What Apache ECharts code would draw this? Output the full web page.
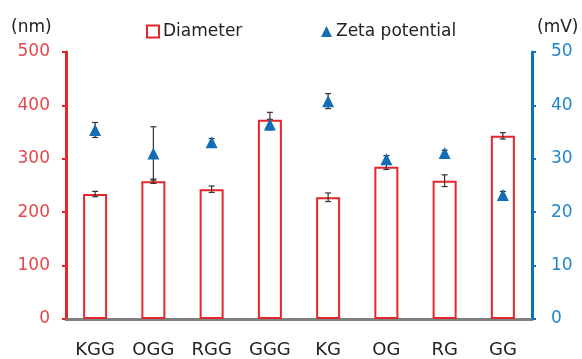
<!DOCTYPE html>
<html>
<head>
<meta charset="utf-8">
<script src="https://cdn.jsdelivr.net/npm/echarts@6/dist/echarts.min.js"></script>
<style>
  html, body { margin: 0; padding: 0; background: #fff; }
  #chart { width: 582px; height: 359px; }
</style>
</head>
<body>
<div id="chart"></div>
<script>
// Peptide samples along the x axis
const categories = ['KGG', 'OGG', 'RGG', 'GGG', 'KG', 'OG', 'RG', 'GG'];

// Hydrodynamic diameter (nm) with standard deviation
const diameter = [234, 258, 243, 373, 228, 285, 259, 343];
const diameterErr = [5, 4, 6, 14, 8, 5, 11, 6];

// Zeta potential (mV) with standard deviation
const zeta = [35.4, 31.0, 33.1, 36.4, 40.8, 29.9, 31.1, 23.2];
const zetaErr = [1.4, 5.0, 0.7, 1.0, 1.4, 0.7, 0.5, 0.7];

// Axis tick values
const nmTicks = [0, 100, 200, 300, 400, 500];
const mvTicks = [0, 10, 20, 30, 40, 50];

const RED = '#e3262c';
const RED_TEXT = '#e6464c';
const BLUE = '#0b72bd';
const BLUE_TEXT = '#2187cc';
const MARKER_BLUE = '#136db5';
const FONT = 'DejaVu Sans';

function errorData(values, errs) {
  return values.map((v, i) => [i, v - errs[i], v + errs[i]]);
}

function errorRenderer(params, api) {
  const i = api.value(0);
  const lo = api.coord([i, api.value(1)]);
  const hi = api.coord([i, api.value(2)]);
  const cap = 3;
  const style = { stroke: '#333', lineWidth: 1.2, fill: null };
  return {
    type: 'group',
    children: [
      { type: 'line', shape: { x1: lo[0], y1: lo[1], x2: hi[0], y2: hi[1] }, style },
      { type: 'line', shape: { x1: lo[0] - cap, y1: lo[1], x2: lo[0] + cap, y2: lo[1] }, style },
      { type: 'line', shape: { x1: hi[0] - cap, y1: hi[1], x2: hi[0] + cap, y2: hi[1] }, style }
    ]
  };
}

const chart = echarts.init(document.getElementById('chart'), null, { renderer: 'canvas' });

chart.setOption({
  animation: false,
  backgroundColor: '#fff',
  textStyle: { fontFamily: FONT },
  grid: { left: 66, right: 50, top: 52, bottom: 36.5, containLabel: false },
  legend: [
    {
      data: [{ name: 'Diameter', icon: 'rect' }], left: 146, top: 23, padding: 0,
      itemWidth: 12, itemHeight: 12, itemGap: 0,
      textStyle: { fontFamily: FONT, fontSize: 17, color: '#222', padding: [0, 0, 0, -1] }
    },
    {
      data: [{ name: 'Zeta potential', icon: 'triangle' }], left: 321, top: 23, padding: 0,
      itemWidth: 11, itemHeight: 11, itemGap: 0,
      textStyle: { fontFamily: FONT, fontSize: 17, color: '#222', padding: [0, 0, 0, -1] }
    }
  ],
  graphic: [
    { type: 'text', left: 11, top: 19, style: { text: '(nm)', font: '17px "DejaVu Sans"', fill: '#222' } },
    { type: 'text', left: 537, top: 19, style: { text: '(mV)', font: '17px "DejaVu Sans"', fill: '#222' } }
  ],
  xAxis: {
    type: 'category',
    data: categories,
    axisLine: { lineStyle: { color: '#808080', width: 3 } },
    axisTick: { inside: true, length: 5, lineStyle: { color: '#808080', width: 2 } },
    axisLabel: { margin: 22, fontSize: 18, color: '#222', fontFamily: FONT },
    splitLine: { show: false }
  },
  yAxis: [
    {
      type: 'value', min: 0, max: 500, interval: 100,
      axisLine: { show: true, lineStyle: { color: RED, width: 3 } },
      axisTick: { show: true, length: 4, lineStyle: { color: RED, width: 2 } },
      axisLabel: {
        margin: 16, fontSize: 17, color: RED_TEXT, fontFamily: FONT,
        formatter: v => nmTicks.includes(v) ? String(v) : ''
      },
      splitLine: { show: false }
    },
    {
      type: 'value', min: 0, max: 50, interval: 10, position: 'right',
      axisLine: { show: true, lineStyle: { color: BLUE, width: 3 } },
      axisTick: { show: true, length: 4, lineStyle: { color: BLUE, width: 2 } },
      axisLabel: {
        margin: 19, fontSize: 17, color: BLUE_TEXT, fontFamily: FONT,
        formatter: v => mvTicks.includes(v) ? String(v) : ''
      },
      splitLine: { show: false }
    }
  ],
  series: [
    {
      name: 'Diameter',
      type: 'bar',
      yAxisIndex: 0,
      data: diameter,
      barWidth: 24,
      itemStyle: { color: '#fff', borderColor: RED, borderWidth: 2 },
      z: 2
    },
    {
      name: 'Diameter error',
      type: 'custom',
      yAxisIndex: 0,
      data: errorData(diameter, diameterErr),
      encode: { x: 0, y: [1, 2] },
      renderItem: errorRenderer,
      z: 3
    },
    {
      name: 'Zeta error',
      type: 'custom',
      yAxisIndex: 1,
      data: errorData(zeta, zetaErr),
      encode: { x: 0, y: [1, 2] },
      renderItem: errorRenderer,
      z: 4
    },
    {
      name: 'Zeta potential',
      type: 'scatter',
      yAxisIndex: 1,
      data: zeta,
      symbol: 'triangle',
      symbolSize: [12, 12],
      itemStyle: { color: MARKER_BLUE, opacity: 1 },
      z: 5
    }
  ]
});
</script>
</body>
</html>
